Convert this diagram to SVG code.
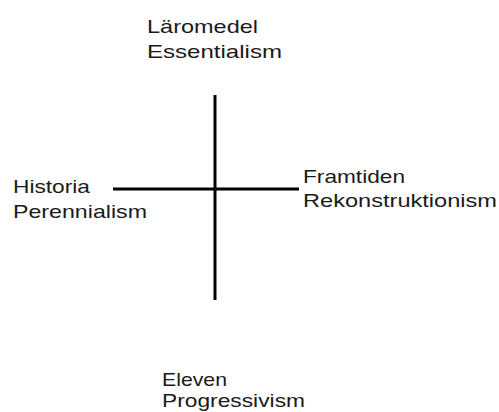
<svg xmlns="http://www.w3.org/2000/svg" width="499" height="412" viewBox="0 0 499 412">
<style>
text{font-family:"Liberation Sans",Arial,sans-serif;font-size:19px;fill:#1a1a1a}
.ax{stroke:#000;stroke-width:3;fill:none}
</style>
<rect width="499" height="412" fill="#fff"/>
<g id="connectors">
<line class="ax" x1="215" y1="95" x2="215" y2="300"/>
<line class="ax" x1="113" y1="189" x2="299" y2="189"/>
</g>
<g id="top"><text x="147" y="33" textLength="111" lengthAdjust="spacingAndGlyphs">Läromedel</text><text x="147" y="58" textLength="135" lengthAdjust="spacingAndGlyphs">Essentialism</text></g>
<g id="left"><text x="13" y="193" textLength="77" lengthAdjust="spacingAndGlyphs">Historia</text><text x="13" y="218" textLength="134" lengthAdjust="spacingAndGlyphs">Perennialism</text></g>
<g id="right"><text x="303" y="183" textLength="102" lengthAdjust="spacingAndGlyphs">Framtiden</text><text x="303" y="207" textLength="194" lengthAdjust="spacingAndGlyphs">Rekonstruktionism</text></g>
<g id="bottom"><text x="162" y="386" textLength="65" lengthAdjust="spacingAndGlyphs">Eleven</text><text x="162" y="407" textLength="143" lengthAdjust="spacingAndGlyphs">Progressivism</text></g>
</svg>
